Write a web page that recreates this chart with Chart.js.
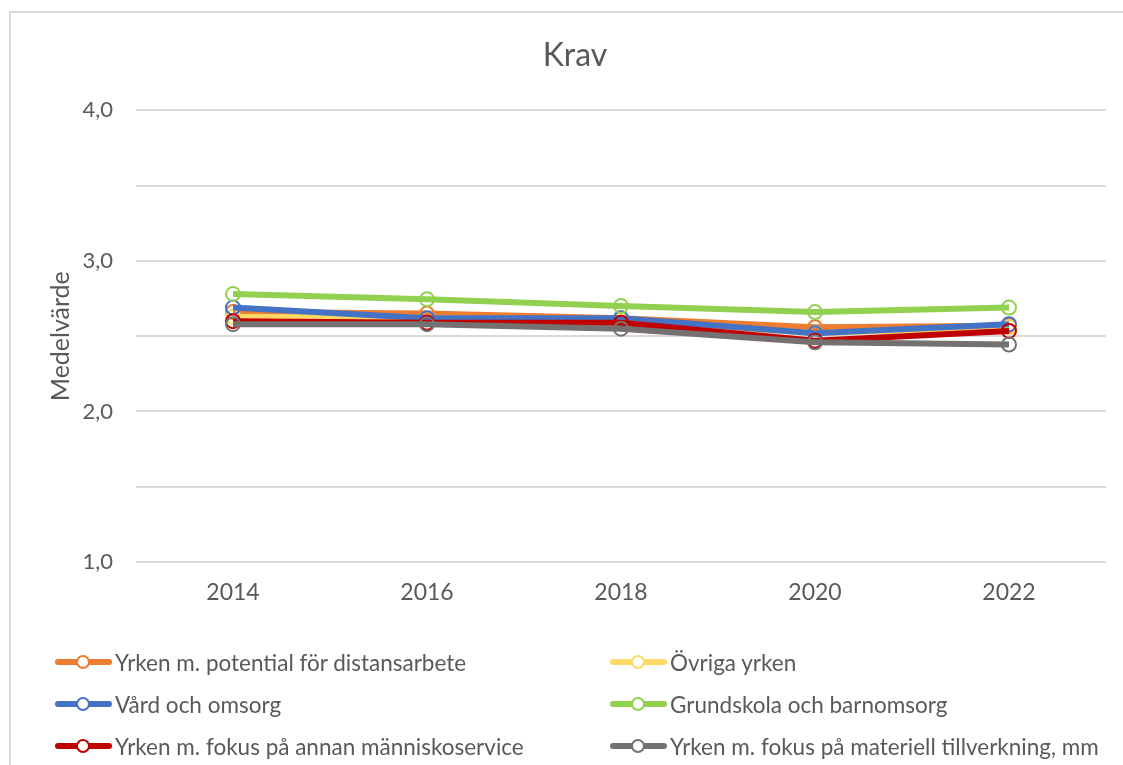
<!DOCTYPE html>
<html>
<head>
<meta charset="utf-8">
<script src="https://cdn.jsdelivr.net/npm/chart.js@4/dist/chart.umd.min.js"></script>
<style>
  html, body { margin: 0; padding: 0; background: #fff; }
  body { width: 1123px; height: 765px; position: relative; overflow: hidden; font-family: Lato, "Open Sans", sans-serif; }
  #frame { position: absolute; left: 9px; top: 11px; width: 1200px; height: 900px; border: 2px solid #d9d9d9; box-sizing: border-box; }
  #wrap { position: absolute; left: 0; top: 0; width: 1123px; height: 765px; }
  #legend { position: absolute; left: 0; top: 0; width: 1123px; height: 765px; pointer-events: none; }
  .item { position: absolute; display: flex; align-items: center; color: #595959; font-size: 22.5px; white-space: nowrap; height: 28px; }
  .sample { position: relative; width: 57px; height: 16px; margin-right: 3px; }
  .sample .ln { position: absolute; left: 0; right: 0; top: 5px; height: 6px; border-radius: 3px; }
  .sample .mk { position: absolute; left: 21px; top: 1px; width: 10px; height: 10px; border-radius: 50%; background: #fff; border: 2px solid; }
</style>
</head>
<body>
<div id="frame"></div>
<div id="wrap"><canvas id="c" width="1123" height="765"></canvas></div>
<div id="legend"></div>
<script>
const categories = ['2014', '2016', '2018', '2020', '2022'];
const seriesNames = [
  'Yrken m. potential för distansarbete',
  'Övriga yrken',
  'Vård och omsorg',
  'Grundskola och barnomsorg',
  'Yrken m. fokus på annan människoservice',
  'Yrken m. fokus på materiell tillverkning, mm'
];
const distansarbete = [2.66, 2.65, 2.62, 2.56, 2.57];
const ovrigaYrken = [2.63, 2.62, 2.60, 2.52, 2.56];
const vardOmsorg = [2.69, 2.62, 2.62, 2.52, 2.58];
const grundskola = [2.78, 2.745, 2.70, 2.66, 2.69];
const manniskoservice = [2.60, 2.59, 2.59, 2.47, 2.535];
const materiell = [2.58, 2.58, 2.55, 2.46, 2.445];
const yTickLabels = ['1,0', '2,0', '3,0', '4,0'];
const colors = ['#ED7D31', '#FFD966', '#4472C4', '#92D050', '#C00000', '#767171'];

const seriesValues = [distansarbete, ovrigaYrken, vardOmsorg, grundskola, manniskoservice, materiell];

const datasets = seriesValues.map((vals, i) => ({
  label: seriesNames[i],
  data: vals,
  borderColor: colors[i],
  backgroundColor: '#ffffff',
  borderWidth: 6,
  pointRadius: 7,
  pointBorderWidth: 2,
  pointBorderColor: colors[i],
  pointBackgroundColor: 'rgba(255,255,255,0)',
  tension: 0,
  order: seriesValues.length - i
}));

const font = 'Lato, "Open Sans", sans-serif';

new Chart(document.getElementById('c'), {
  type: 'line',
  data: { labels: categories, datasets },
  options: {
    responsive: false,
    animation: false,
    layout: { padding: { left: 44, right: 17, top: 0, bottom: 153 } },
    plugins: {
      legend: { display: false },
      tooltip: { enabled: false },
      title: {
        display: true,
        text: 'Krav',
        color: '#595959',
        font: { family: font, size: 32, weight: 'normal' },
        padding: { top: 36, bottom: 36 }
      }
    },
    scales: {
      x: {
        offset: true,
        grid: { display: false, drawTicks: false },
        border: { display: false },
        ticks: { color: '#595959', font: { family: font, size: 23 }, padding: 17 },
        afterFit: (s) => { s.height = 50; }
      },
      y: {
        min: 1, max: 4,
        grid: { color: '#d9d9d9', lineWidth: 2, drawTicks: false },
        border: { display: false },
        ticks: {
          stepSize: 0.5,
          color: '#595959',
          font: { family: font, size: 22 },
          padding: 23,
          callback: (v) => {
            const idx = yTickLabels.indexOf(Number(v).toFixed(1).replace('.', ','));
            return idx >= 0 ? yTickLabels[idx] : '';
          }
        },
        title: {
          display: true,
          text: 'Medelvärde',
          color: '#595959',
          font: { family: font, size: 25 },
          padding: { top: 2, bottom: 0 }
        },
        afterFit: (s) => { s.width = 92; }
      }
    }
  }
});

// HTML legend, two columns
const legend = document.getElementById('legend');
const pos = [
  [55, 662], [610, 662],
  [55, 704], [610, 704],
  [55, 746], [610, 746]
];
seriesNames.forEach((name, i) => {
  const it = document.createElement('div');
  it.className = 'item';
  it.style.left = pos[i][0] + 'px';
  it.style.top = (pos[i][1] - 14) + 'px';
  it.innerHTML = '<span class="sample"><span class="ln" style="background:' + colors[i] +
    '"></span><span class="mk" style="border-color:' + colors[i] + '"></span></span><span></span>';
  it.lastChild.textContent = name;
  legend.appendChild(it);
});
</script>
</body>
</html>
